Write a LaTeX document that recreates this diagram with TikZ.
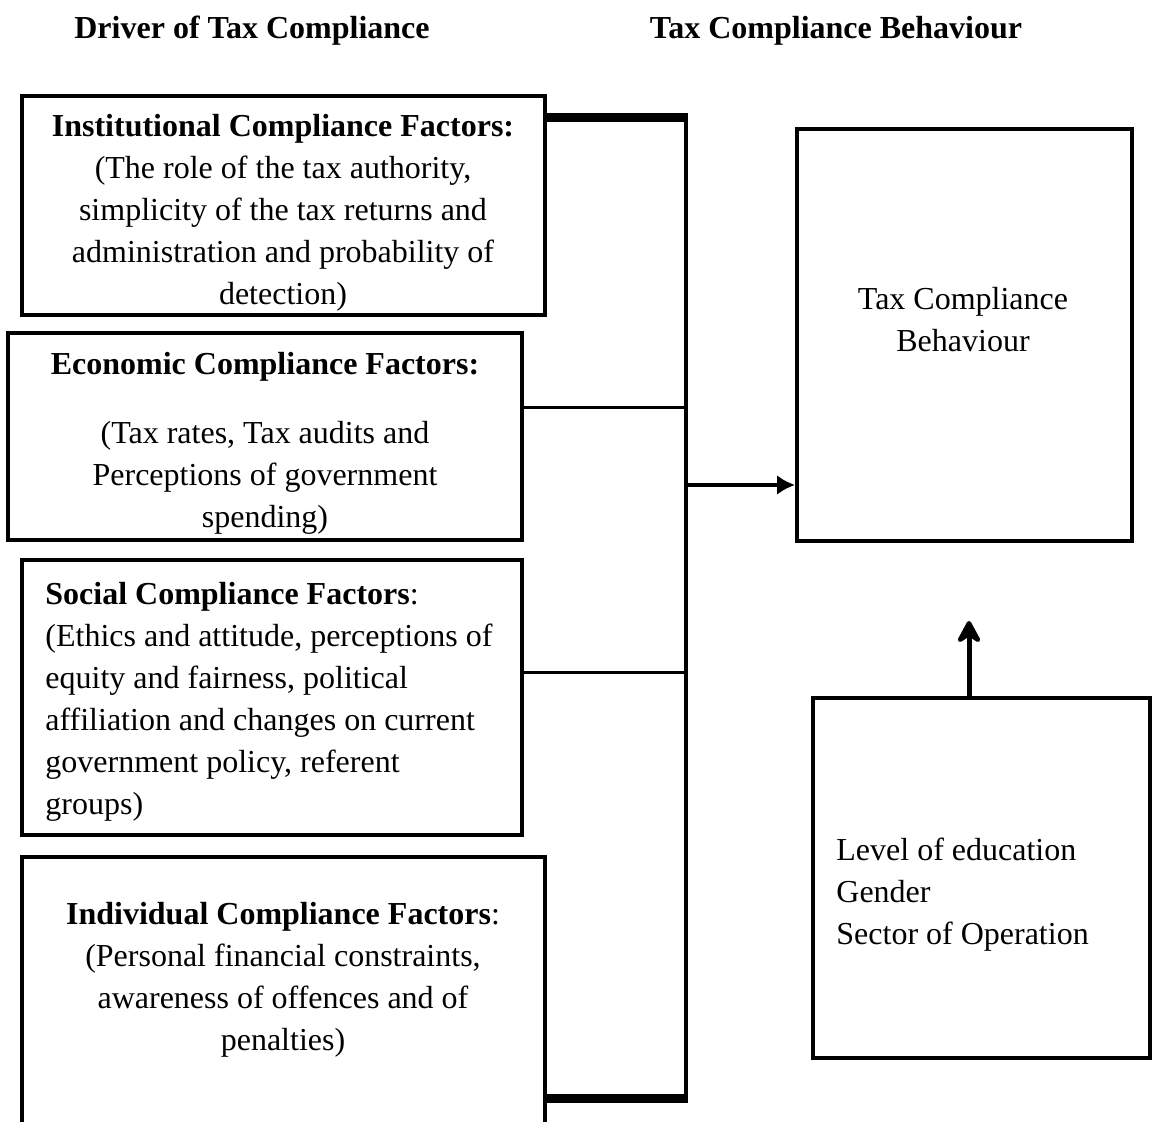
\documentclass[tikz,border=0pt]{standalone}
\usepackage{fontspec}
\setmainfont{Liberation Serif}
\usetikzlibrary{positioning, arrows.meta, calc}

\begin{document}
\begin{tikzpicture}[x=0.5pt, y=-0.5pt,
  box/.style={draw, line width=2pt, inner sep=0pt},
  txt/.style={inner sep=0pt, font=\fontsize{16pt}{21pt}\selectfont},
  head/.style={inner sep=0pt, font=\fontsize{16pt}{21pt}\selectfont\bfseries},
  link/.style={line width=1.5pt},
  rail/.style={line width=2pt},
  railend/.style={line width=4.5pt},
  arrow/.style={-{Latex[length=9pt,width=10pt]}, line width=1.8pt},
  uparrow/.style={-{Stealth[length=14pt,width=15pt,inset=5pt,round]}, line width=2.5pt}
]
  \useasboundingbox (0,0) rectangle (1152,1122);

  % column headings
  \node[head] (hdrive) at (252,31) {Driver of Tax Compliance};
  \node[head] (hbehav) at (836,31) {Tax Compliance Behaviour};

  % driver boxes
  \node[box, minimum width=261.5pt, minimum height=109.5pt] (inst) at (283.5,205.5) {};
  \node[box, minimum width=257pt, minimum height=103.5pt] (econ) at (265,436.5) {};
  \node[box, minimum width=250pt, minimum height=137.5pt] (social) at (272,697.5) {};
  \node[box, minimum width=261.5pt, minimum height=150pt] (indiv) at (283.5,1007) {};

  \node[txt, align=flush center] (insttxt) at (283,213)
    {\textbf{Institutional Compliance Factors:}\\(The role of the tax authority,\\simplicity of the tax returns and\\administration and probability of\\detection)};
  \node[txt, align=flush center] (econtxt) at (265,443)
    {\textbf{Economic Compliance Factors:}\\[13.5pt](Tax rates, Tax audits and\\Perceptions of government\\spending)};
  \node[txt, align=flush left, text width=230pt, anchor=west] (socialtxt) at (45,702)
    {\textbf{Social Compliance Factors}:\\(Ethics and attitude, perceptions of\\equity and fairness, political\\affiliation and changes on current\\government policy, referent\\groups)};
  \node[txt, align=flush center] (indivtxt) at (283,980)
    {\textbf{Individual Compliance Factors}:\\(Personal financial constraints,\\awareness of offences and of\\penalties)};

  % outcome and control boxes
  \node[box, minimum width=167.5pt, minimum height=206pt] (behav) at (964.5,335) {};
  \node[txt, align=flush center] (behavtxt) at (963,320) {Tax Compliance\\Behaviour};
  \node[box, minimum width=168.5pt, minimum height=180pt] (demog) at (981.5,878) {};
  \node[txt, align=flush left, anchor=west] (demogtxt) at (836,895)
    {Level of education\\Gender\\Sector of Operation};

  % bracket joining the drivers
  \coordinate (rtop) at (686,118);
  \coordinate (rbot) at (686,1098);
  \coordinate (jecon) at (686,408);
  \coordinate (jout) at (686,485);
  \coordinate (jsoc) at (686,673);
  \coordinate (tip) at (969,621);

  \draw[railend] (inst.east |- rtop) -- ([xshift=1pt]rtop);
  \draw[railend] (indiv.east |- rbot) -- ([xshift=1pt]rbot);
  \draw[rail] ([yshift=2pt]rtop) -- ([yshift=-2.5pt]rbot);
  \draw[link] (econ.east |- jecon) -- (jecon);
  \draw[link] (social.east |- jsoc) -- (jsoc);
  \draw[arrow] (jout) -- (behav.west |- jout);
  \draw[uparrow] (demog.north -| tip) -- (tip);
\end{tikzpicture}
\end{document}
